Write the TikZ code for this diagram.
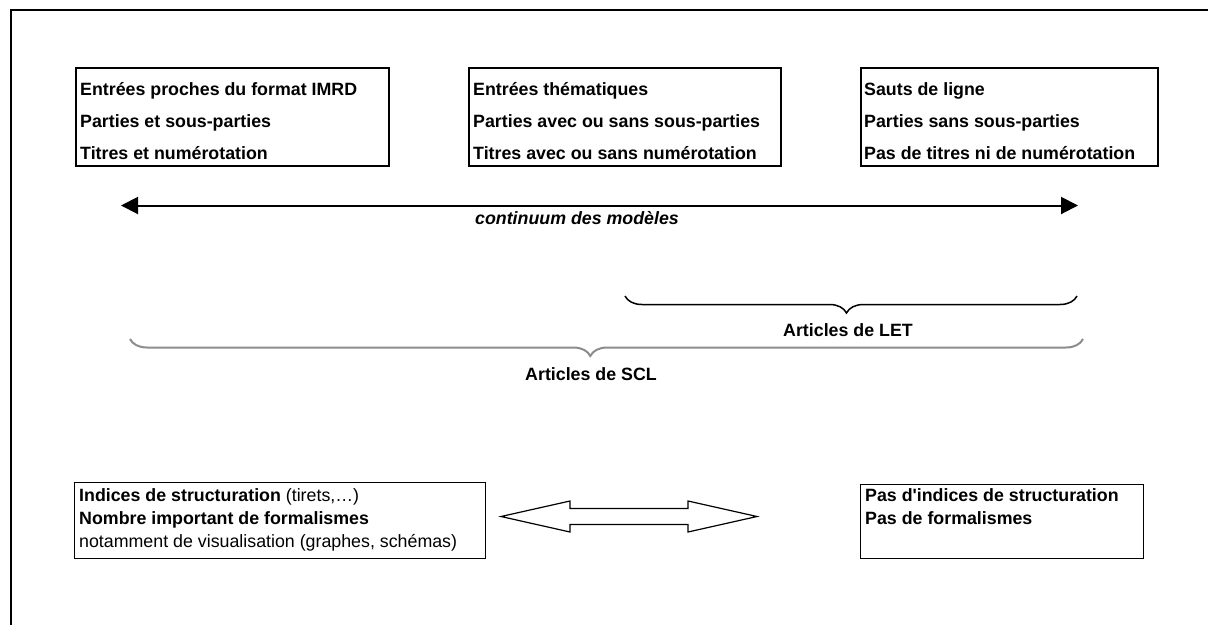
\documentclass[tikz,border=0pt]{standalone}
\usepackage{fontspec}
\setmainfont{Liberation Sans}[Ligatures=TeXOff]
\usetikzlibrary{arrows.meta,decorations.pathreplacing}
\begin{document}
\begin{tikzpicture}[x=1pt,y=-1pt,
  topbox/.style={draw, line width=2pt, inner sep=0, anchor=north west},
  botbox/.style={draw, line width=1.3pt, inner sep=0, anchor=north west},
  txt/.style={anchor=base west, inner sep=0, font=\fontsize{17.8}{20}\selectfont\bfseries},
  ntxt/.style={anchor=base west, inner sep=0, font=\fontsize{17.8}{20}\selectfont},
  lbl/.style={anchor=base, inner sep=0, font=\fontsize{17.8}{20}\selectfont\bfseries},
  bracedeco/.style={decorate, decoration={brace, mirror, amplitude=17pt, aspect=#1}},
]
\useasboundingbox (0,0) rectangle (1208,625);
% frame
\coordinate (fr1) at (1208,10);
\coordinate (fr2) at (11,10);
\coordinate (fr3) at (11,625);
\draw[line width=2.5pt] (fr1) -- (fr2) -- (fr3);

% top boxes
\node[topbox, minimum width=313pt, minimum height=98pt] (b1) at (75,67) {};
\node[txt] (b1a) at (80,95) {Entrées proches du format IMRD};
\node[txt] (b1b) at (80,127) {Parties et sous-parties};
\node[txt] (b1c) at (80,159) {Titres et numérotation};

\node[topbox, minimum width=312pt, minimum height=98pt] (b2) at (468,67) {};
\node[txt] (b2a) at (473,95) {Entrées thématiques};
\node[txt] (b2b) at (473,127) {Parties avec ou sans sous-parties};
\node[txt] (b2c) at (473,159) {Titres avec ou sans numérotation};

\node[topbox, minimum width=297pt, minimum height=98pt] (b3) at (860,67) {};
\node[txt] (b3a) at (864,95) {Sauts de ligne};
\node[txt] (b3b) at (864,127) {Parties sans sous-parties};
\node[txt] (b3c) at (864,159) {Pas de titres ni de numérotation};

% continuum arrow
\coordinate (cl) at (121,205.5);
\coordinate (cr) at (1078,205.5);
\draw[line width=2pt, {Triangle[length=17pt,width=17pt]}-{Triangle[length=17pt,width=17pt]}] (cl) -- (cr);
\node[lbl, font=\fontsize{17.8}{20}\selectfont\bfseries\itshape] (cont) at (577,224) {continuum des modèles};

% braces
\coordinate (let1) at (625,296);
\coordinate (let2) at (1077,296);
\draw[bracedeco=0.49, line width=1.5pt] (let1) -- (let2);
\node[lbl] (letl) at (848,336) {Articles de LET};

\coordinate (scl1) at (130,339);
\coordinate (scl2) at (1083,339);
\draw[bracedeco=0.483, line width=2pt, black!45] (scl1) -- (scl2);
\node[lbl] (scll) at (591,380) {Articles de SCL};

% bottom boxes
\node[botbox, minimum width=411pt, minimum height=76pt] (lb) at (74,482) {};
\node[ntxt] (lba) at (79,501) {\textbf{Indices de structuration} (tirets,…)};
\node[txt] (lbb) at (79,524) {Nombre important de formalismes};
\node[ntxt] (lbc) at (79,547) {notamment de visualisation (graphes, schémas)};

\node[botbox, minimum width=283pt, minimum height=74pt] (rb) at (860,484) {};
\node[txt] (rba) at (865,501) {Pas d'indices de structuration};
\node[txt] (rbb) at (865,524) {Pas de formalismes};

% double arrow
\draw[line width=1.2pt, line join=miter]
  (501,516.5) -- (570,501) -- (570,508.5) -- (688,508.5) -- (688,501) -- (757,516.5)
  -- (688,532) -- (688,524.5) -- (570,524.5) -- (570,532) -- cycle;
\end{tikzpicture}
\end{document}
